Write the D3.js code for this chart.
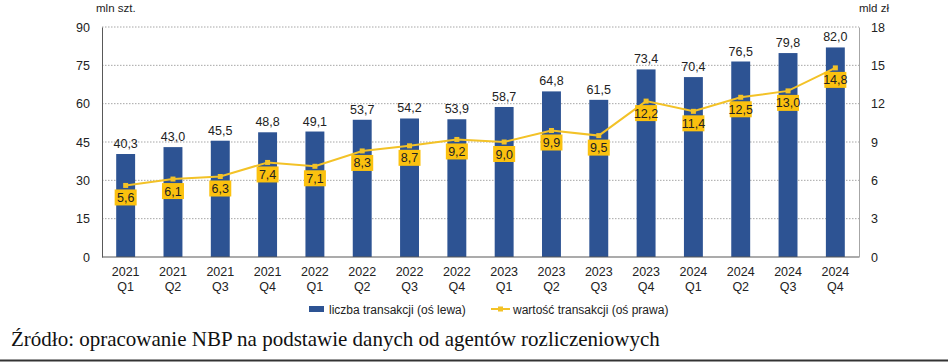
<!DOCTYPE html>
<html>
<head>
<meta charset="utf-8">
<script src="https://cdn.jsdelivr.net/npm/d3@7"></script>
<style>
  body { margin: 0; background: #fff; }
  svg { display: block; }
  text { font-family: "Liberation Sans", Arial, sans-serif; }
</style>
</head>
<body>
<svg id="chart" width="948" height="362"></svg>
<script>
// Data
var years = ["2021", "2021", "2021", "2021", "2022", "2022", "2022", "2022",
             "2023", "2023", "2023", "2023", "2024", "2024", "2024", "2024"];
var quarters = ["Q1", "Q2", "Q3", "Q4", "Q1", "Q2", "Q3", "Q4",
                "Q1", "Q2", "Q3", "Q4", "Q1", "Q2", "Q3", "Q4"];
var liczba = [40.3, 43.0, 45.5, 48.8, 49.1, 53.7, 54.2, 53.9,
              58.7, 64.8, 61.5, 73.4, 70.4, 76.5, 79.8, 82.0];
var wartosc = [5.6, 6.1, 6.3, 7.4, 7.1, 8.3, 8.7, 9.2,
               9.0, 9.9, 9.5, 12.2, 11.4, 12.5, 13.0, 14.8];
var leftTicks = [0, 15, 30, 45, 60, 75, 90];
var rightTicks = [0, 3, 6, 9, 12, 15, 18];

var barColor = "#2d5393";
var lineColor = "#f3c227";
var boxColor = "#fbc10f";

var svg = d3.select("#chart");
// plot area edges (window.top is reserved, so prefixed names)
var pLeft = 102, pRight = 859, pTop = 27, pBottom = 257;

var x = d3.scaleBand().domain(d3.range(16)).range([pLeft, pRight]).paddingInner(0.6).paddingOuter(0.3);
var yL = d3.scaleLinear().domain([0, 90]).range([pBottom, pTop]);
var yR = d3.scaleLinear().domain([0, 18]).range([pBottom, pTop]);
var fmt = function (v) { return v.toFixed(1).replace(".", ","); };
var cx = function (d, i) { return x(i) + x.bandwidth() / 2; };

// gridlines
svg.append("g").selectAll("line")
    .data(leftTicks.filter(function (d) { return d > 0; }))
    .enter().append("line")
    .attr("x1", pLeft).attr("x2", pRight)
    .attr("y1", function (d) { return yL(d); }).attr("y2", function (d) { return yL(d); })
    .attr("stroke", "#a6a6a6").attr("stroke-width", 1)
    .attr("stroke-dasharray", "1.5,1.5");

// left axis
var axL = svg.append("g")
    .attr("transform", "translate(" + pLeft + ",0)")
    .call(d3.axisLeft(yL).tickValues(leftTicks).tickSize(0).tickPadding(12));
axL.select(".domain").attr("stroke", "#595959");
axL.selectAll("text").attr("font-size", 12.5).attr("fill", "#222");

// right axis
var axR = svg.append("g")
    .attr("transform", "translate(" + pRight + ",0)")
    .call(d3.axisRight(yR).tickValues(rightTicks).tickSize(0).tickPadding(12));
axR.select(".domain").attr("stroke", "#a6a6a6");
axR.selectAll("text").attr("font-size", 12.5).attr("fill", "#222");

// bars
svg.append("g").selectAll("rect")
    .data(liczba).enter().append("rect")
    .attr("x", function (d, i) { return x(i); })
    .attr("width", x.bandwidth())
    .attr("y", function (d) { return yL(d); })
    .attr("height", function (d) { return yL(0) - yL(d); })
    .attr("fill", barColor);

// bottom axis line
svg.append("line")
    .attr("x1", pLeft).attr("x2", pRight).attr("y1", pBottom).attr("y2", pBottom)
    .attr("stroke", "#595959").attr("stroke-width", 1.2);

// bar labels
svg.append("g").selectAll("text")
    .data(liczba).enter().append("text")
    .attr("x", cx)
    .attr("y", function (d) { return yL(d) - 6; })
    .attr("text-anchor", "middle")
    .attr("font-size", 12.5).attr("fill", "#222")
    .text(fmt);

// category labels
var cat = svg.append("g").selectAll("text")
    .data(years).enter().append("text")
    .attr("text-anchor", "middle")
    .attr("font-size", 12.5).attr("fill", "#222");
cat.append("tspan").attr("x", cx).attr("y", 276).text(function (d) { return d; });
cat.append("tspan").attr("x", cx).attr("y", 291).text(function (d, i) { return quarters[i]; });

// line
var line = d3.line()
    .x(cx)
    .y(function (d) { return yR(d); });
svg.append("path").datum(wartosc)
    .attr("d", line).attr("fill", "none")
    .attr("stroke", lineColor).attr("stroke-width", 2);
svg.append("g").selectAll("rect")
    .data(wartosc).enter().append("rect")
    .attr("x", function (d, i) { return cx(d, i) - 2.5; })
    .attr("y", function (d) { return yR(d) - 2.5; })
    .attr("width", 5).attr("height", 5)
    .attr("fill", lineColor);

// line labels in boxes
var lab = svg.append("g").selectAll("g")
    .data(wartosc).enter().append("g")
    .attr("transform", function (d, i) {
        return "translate(" + cx(d, i) + "," + (yR(d) + 12) + ")";
    });
lab.append("rect")
    .attr("x", -11).attr("y", -8).attr("width", 22).attr("height", 16)
    .attr("fill", boxColor);
lab.append("text")
    .attr("text-anchor", "middle").attr("dy", "0.36em")
    .attr("font-size", 12.5).attr("fill", "#222")
    .text(fmt);

// axis units
svg.append("text").attr("x", 96).attr("y", 12)
    .attr("font-size", 11.5).attr("fill", "#222").text("mln szt.");
svg.append("text").attr("x", 889).attr("y", 12).attr("text-anchor", "end")
    .attr("font-size", 11.5).attr("fill", "#222").text("mld zł");

// legend
var lg = svg.append("g").attr("transform", "translate(0,309)");
lg.append("rect").attr("x", 309).attr("y", -3).attr("width", 15).attr("height", 6).attr("fill", barColor);
lg.append("text").attr("x", 329).attr("y", 4.5).attr("font-size", 12).attr("fill", "#222")
    .text("liczba transakcji (oś lewa)");
lg.append("line").attr("x1", 491).attr("x2", 510).attr("y1", 0).attr("y2", 0)
    .attr("stroke", lineColor).attr("stroke-width", 2);
lg.append("rect").attr("x", 498).attr("y", -2.5).attr("width", 5).attr("height", 5).attr("fill", lineColor);
lg.append("text").attr("x", 513).attr("y", 4.5).attr("font-size", 12).attr("fill", "#222")
    .text("wartość transakcji (oś prawa)");

// source
svg.append("text").attr("x", 11).attr("y", 346)
    .style("font-family", "'Liberation Serif', 'Times New Roman', serif")
    .attr("font-size", 21).attr("fill", "#111")
    .text("Źródło: opracowanie NBP na podstawie danych od agentów rozliczeniowych");

svg.append("line").attr("x1", 0).attr("x2", 948).attr("y1", 360.5).attr("y2", 360.5)
    .attr("stroke", "#333").attr("stroke-width", 2);
</script>
</body>
</html>
